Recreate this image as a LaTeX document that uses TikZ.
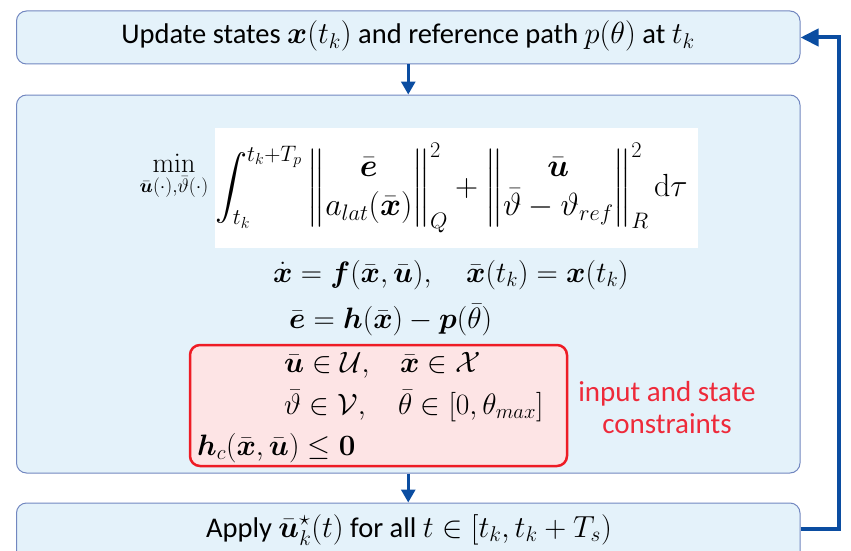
\RequirePackage{fix-cm}
\documentclass[tikz,border=0pt]{standalone}
\usepackage{amsmath,amssymb}
\usepackage[no-math]{fontspec}
\newfontfamily\carlito{Carlito}
\usetikzlibrary{arrows.meta}
\definecolor{boxfill}{HTML}{E4F2FA}
\definecolor{boxline}{HTML}{7287C0}
\definecolor{arrowblue}{HTML}{0B4DA1}
\definecolor{redline}{HTML}{EE1C25}
\definecolor{redfill}{HTML}{FDE4E5}
\definecolor{redtext}{HTML}{EE2A3A}
\newcommand{\bx}{\bar{\boldsymbol x}}
\newcommand{\bu}{\bar{\boldsymbol u}}
\newcommand{\bm}[1]{{\fontsize{30.5}{32}\selectfont$#1$}}
\begin{document}
\begin{tikzpicture}[x=1pt,y=-1pt,
  blockbox/.style={draw=boxline, fill=boxfill, line width=1pt, rounded corners=10pt, minimum width=783.5pt, inner sep=0pt},
  boxtext/.style={inner sep=0pt, font=\carlito\fontsize{28.5}{32}\selectfont},
  eqtext/.style={inner sep=0pt, anchor=base west, font=\fontsize{29.5}{36}\selectfont},
  redbox/.style={draw=redline, fill=redfill, line width=2.5pt, rounded corners=10pt, inner sep=0pt},
  redlabel/.style={inner sep=0pt, align=center, text=redtext, font=\carlito\fontsize{29}{32}\selectfont},
  flowarrow/.style={draw=arrowblue, line width=3pt, -{Triangle[length=13pt,width=14pt]}},
  fbarrow/.style={draw=arrowblue, line width=4pt, -{Triangle[length=18pt,width=17pt]}}
]
\clip (0,0) rectangle (851,551);
\useasboundingbox (0,0) rectangle (851,551);
% boxes
\node[blockbox, minimum height=53pt] (top) at (408.25,37.5) {};
\node[blockbox, minimum height=378pt] (big) at (408.25,284) {};
\node[blockbox, minimum height=72pt] (bot) at (408.25,539) {};
\node[boxtext, anchor=base] (toptext) at (408,44) {Update states \bm{\boldsymbol x(t_k)} and reference path \bm{p(\theta)} at \bm{t_k}};
\node[boxtext, anchor=base] (bottext) at (409,537) {Apply \bm{\bar{\boldsymbol u}_k^\star(t)} for all \bm{t\in[t_k,t_k+T_s)}};
% cost
\node[fill=white, inner sep=0pt, minimum width=483pt, minimum height=120pt] (wbox) at (456.5,188) {};
\node[inner sep=0pt, anchor=base, font=\fontsize{28}{32}\selectfont] (minop) at (174,172) {$\displaystyle\min_{\bar{\boldsymbol u}(\cdot),\bar\vartheta(\cdot)}$};
\node[inner sep=0pt, anchor=base west, font=\fontsize{32}{39}\selectfont] (integ) at (215,196) {$\displaystyle\int_{t_k}^{t_k+T_p}\left\|\begin{matrix}\bar{\boldsymbol e}\\ a_{lat}(\bx)\end{matrix}\right\|_Q^2+\left\|\begin{matrix}\bu\\ \bar\vartheta-\vartheta_{ref}\end{matrix}\right\|_R^2\mathrm{d}\tau$};
% dynamics
\node[eqtext] (eq1) at (273,282) {$\dot{\boldsymbol x}=\boldsymbol f(\bx,\bu),\quad \bx(t_k)=\boldsymbol x(t_k)$};
\node[eqtext] (eq2) at (289,328) {$\bar{\boldsymbol e}=\boldsymbol h(\bx)-\boldsymbol p(\bar\theta)$};
% constraints
\node[redbox, minimum width=377pt, minimum height=121pt] (cbox) at (378.5,405.5) {};
\node[eqtext] (c1) at (284,372) {$\bu\in\mathcal U,$};
\node[eqtext] (c1b) at (400,372) {$\bx\in\mathcal X$};
\node[eqtext] (c2) at (284,414) {$\bar\vartheta\in\mathcal V,$};
\node[eqtext] (c2b) at (398,414) {$\bar\theta\in[0,\theta_{max}]$};
\node[eqtext] (c3) at (197,455) {$\boldsymbol h_c(\bx,\bu)\le\boldsymbol 0$};
\node[redlabel] (lbl) at (667,408) {input and state\\constraints};
% arrows
\draw[flowarrow] (top.south) -- (big.north);
\draw[flowarrow] (big.south) -- (bot.north);
\coordinate (fbcorner) at (839,37.5);
\draw[fbarrow] ([yshift=10pt]bot.east) -| (fbcorner) -- (top.east);
\end{tikzpicture}
\end{document}
